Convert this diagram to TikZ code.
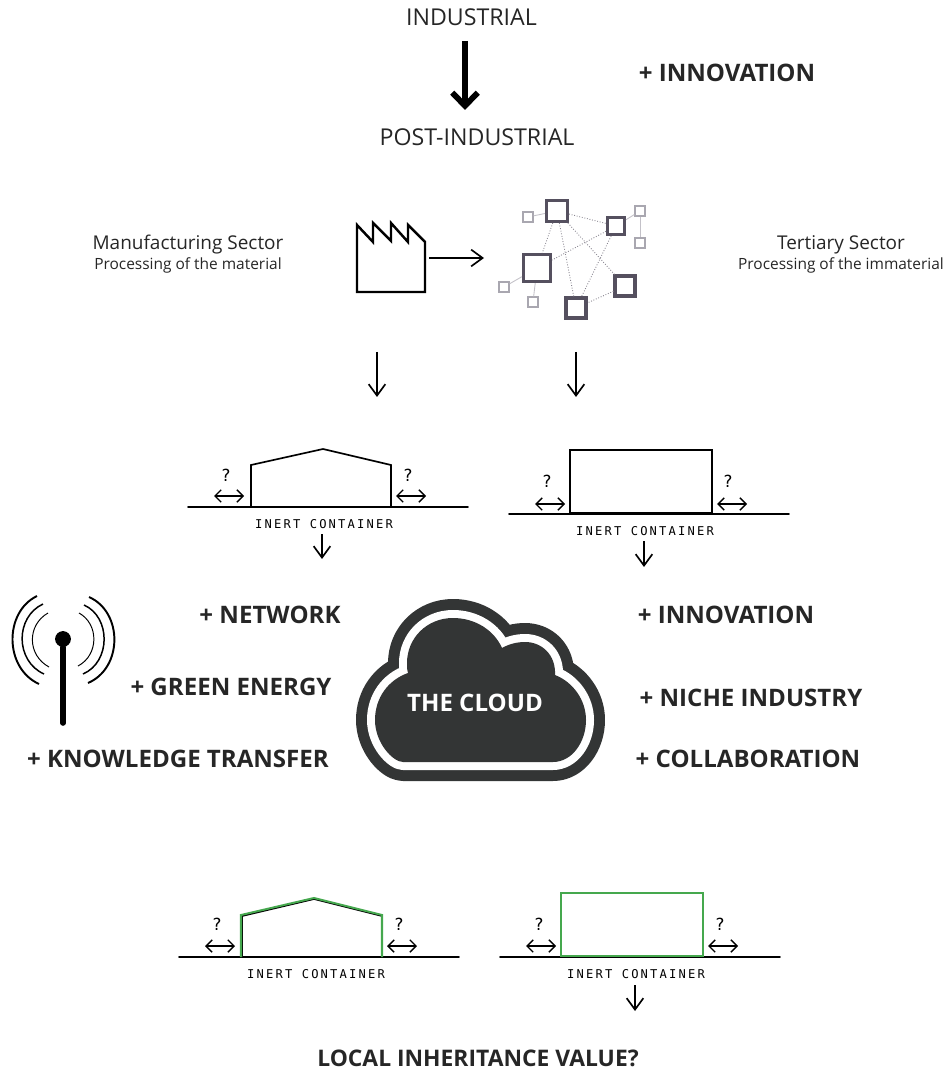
\documentclass[tikz,border=0pt]{standalone}
\usepackage{fontspec}
\setmainfont{Open Sans}
\setmonofont[LetterSpace=18]{DejaVu Sans Mono}
\usetikzlibrary{arrows.meta}
\definecolor{clouddark}{HTML}{333535}
\definecolor{netdark}{HTML}{55505F}
\definecolor{netlight}{HTML}{A9A7B0}
\definecolor{roofgreen}{HTML}{45A84E}
\newcommand{\cloudshape}{(403,762) -- (553,762) .. controls (572,762) and (586,742) .. (586,720) .. controls (586,700) and (573,682) .. (555,675) .. controls (556,655) and (542,642) .. (525,642) .. controls (517,642) and (509,644) .. (502,648) .. controls (494,630) and (475,618) .. (453,618) .. controls (427,618) and (407,638) .. (407,663) .. controls (407,668) and (407,670) .. (408,673) .. controls (388,680) and (375,698) .. (375,720) .. controls (375,743) and (393,762) .. (403,762) -- cycle}
\begin{document}
\begin{tikzpicture}[x=0.02cm, y=-0.02cm,
  big/.style = {font=\fontsize{13.2}{16}\selectfont, inner sep=0pt, text=black!85},
  side/.style = {font=\fontsize{10.8}{13}\selectfont, inner sep=0pt, text=black!85},
  sub/.style = {font=\fontsize{8.8}{11}\selectfont, inner sep=0pt, text=black!85},
  plus/.style = {font=\fontsize{13.7}{16}\selectfont\bfseries, inner sep=0pt, text=black!85},
  inert/.style = {font=\fontsize{6.9}{8}\ttfamily, inner sep=0pt},
  ask/.style = {font=\fontsize{9.5}{11}\ttfamily, inner sep=0pt},
  thin arrow/.style = {line width=0.95pt, -{Straight Barb[length=6.5pt,width=9.5pt,line width=0.95pt]}},
  both arrow/.style = {line width=0.8pt, {Straight Barb[length=3.5pt,width=7pt]}-{Straight Barb[length=3.5pt,width=7pt]}},
  ground/.style = {line width=0.95pt, line cap=round},
  hall/.style = {line width=0.95pt, line join=miter},
  hub/.style = {draw=netdark, line width=1.75pt, fill=white, minimum size=#1*0.569pt, inner sep=0pt},
  leaf/.style = {draw=netlight, line width=1pt, fill=white, minimum size=5.5pt, inner sep=0pt},
  link/.style = {draw=netdark!70, densely dotted, line width=0.5pt},
  twig/.style = {draw=netlight!70, line width=0.5pt}]
  \useasboundingbox (0,0) rectangle (946,1070);

  % top line
  \node[big] (ind) at (471.5,17) {INDUSTRIAL};
  \node[big] (post) at (477,137) {POST-INDUSTRIAL};
  \node[plus] (top) at (727,73) {+ INNOVATION};
  \coordinate (bigstart) at (465,41);
  \coordinate (bigend) at (465,110);
  \draw[line width=3.3pt, -{Straight Barb[length=7.5pt,width=14.5pt,line width=3.3pt]}] (bigstart) -- (bigend);

  % sectors
  \node[side] (man) at (188,245) {Manufacturing Sector};
  \node[sub] (mansub) at (188,265) {Processing of the material};
  \node[side] (ter) at (841,245) {Tertiary Sector};
  \node[sub] (tersub) at (841,265) {Processing of the immaterial};

  % factory
  \draw[line width=1.4pt, line join=miter] (357,292) -- (357,225) -- (373,242) -- (373,223) -- (391,241) -- (391,223) -- (408,242) -- (408,225) -- (425,242) -- (425,292) -- cycle;
  \coordinate (facout) at (429,258);
  \coordinate (netin) at (484,258);
  \draw[thin arrow] (facout) -- (netin);

  % network
  \node[hub=21] (n1) at (557,211) {};
  \node[hub=17] (n2) at (616,226) {};
  \node[hub=27] (n3) at (537,268) {};
  \node[hub=20] (n4) at (625,286) {};
  \node[hub=20] (n5) at (576,308) {};
  \node[leaf] (s1) at (528,217) {};
  \node[leaf] (s2) at (640,211) {};
  \node[leaf] (s3) at (640,243) {};
  \node[leaf] (s4) at (504,287) {};
  \node[leaf] (s5) at (533,302) {};
  \draw[link] (n1) to (n2);
  \draw[link] (n1) to (n3);
  \draw[link] (n1) to (n4);
  \draw[link] (n1) to (n5);
  \draw[link] (n2) to (n3);
  \draw[link] (n2) to (n5);
  \draw[link] (n4) to (n5);
  \draw[twig] (n1) to (s1);
  \draw[twig] (n2) to (s2);
  \draw[twig] (s2) to (s3);
  \draw[twig] (n3) to (s4);
  \draw[twig] (n3) to (s5);

  % arrows down
  \coordinate (d1) at (377,352);
  \coordinate (d2) at (377,397);
  \coordinate (d3) at (576,352);
  \coordinate (d4) at (576,397);
  \draw[thin arrow] (d1) -- (d2);
  \draw[thin arrow] (d3) -- (d4);

  % first pair of halls
  \coordinate (g1) at (188,507);
  \coordinate (g2) at (468,507);
  \draw[ground] (g1) -- (g2);
  \draw[hall] (251,507) -- (251,465) -- (323,449) -- (391,465) -- (391,507);
  \node[ask] (q1) at (226,475) {?};
  \node[ask] (q2) at (408,475) {?};
  \coordinate (a1) at (214,496);
  \coordinate (a2) at (244,496);
  \coordinate (a3) at (396,496);
  \coordinate (a4) at (426,496);
  \draw[both arrow] (a1) -- (a2);
  \draw[both arrow] (a3) -- (a4);
  \node[inert] (lab1) at (324,524) {INERT CONTAINER};
  \coordinate (d5) at (322,534);
  \coordinate (d6) at (322,559);
  \draw[thin arrow] (d5) -- (d6);

  \coordinate (g3) at (509,514);
  \coordinate (g4) at (789,514);
  \draw[ground] (g3) -- (g4);
  \draw[hall] (570,513) rectangle (712,450);
  \node[ask] (q3) at (547,481) {?};
  \node[ask] (q4) at (728,481) {?};
  \coordinate (a5) at (535,504);
  \coordinate (a6) at (565,504);
  \coordinate (a7) at (717,504);
  \coordinate (a8) at (747,504);
  \draw[both arrow] (a5) -- (a6);
  \draw[both arrow] (a7) -- (a8);
  \node[inert] (lab2) at (645,531) {INERT CONTAINER};
  \coordinate (d7) at (644,541);
  \coordinate (d8) at (644,567);
  \draw[thin arrow] (d7) -- (d8);

  % antenna
  \node[circle, fill=black, minimum size=9pt, inner sep=0pt] (dot) at (63,639) {};
  \coordinate (foot) at (63,723);
  \draw[line width=3.2pt, line cap=round] (dot) -- (foot);
  \draw[line width=1.1pt] (89,597) .. controls (123,612) and (123,668) .. (88,683);
  \draw[line width=0.85pt] (84,605) .. controls (111,617) and (111,662) .. (83,674);
  \draw[line width=0.55pt] (79,613) .. controls (99,624) and (99,655) .. (78,666);
  \draw[line width=1.1pt] (37,596) .. controls (4,612) and (4,668) .. (39,684);
  \draw[line width=0.85pt] (43,604) .. controls (15,617) and (15,661) .. (44,674);
  \draw[line width=0.55pt] (48,613) .. controls (27,625) and (27,655) .. (49,667);

  % cloud
  \draw[clouddark, line width=0.76cm, line join=round] \cloudshape;
  \draw[white, line width=0.32cm, line join=round] \cloudshape;
  \fill[clouddark] \cloudshape;
  \node[plus, text=white] (cloud) at (475,703) {THE CLOUD};

  % values
  \node[plus] (p1) at (270,615) {+ NETWORK};
  \node[plus] (p2) at (231,687) {+ GREEN ENERGY};
  \node[plus] (p3) at (178,759) {+ KNOWLEDGE TRANSFER};
  \node[plus] (p4) at (726,615) {+ INNOVATION};
  \node[plus] (p5) at (751,698) {+ NICHE INDUSTRY};
  \node[plus] (p6) at (748,759) {+ COLLABORATION};

  % second pair of halls
  \coordinate (g5) at (179,957);
  \coordinate (g6) at (459,957);
  \draw[ground] (g5) -- (g6);
  \draw[hall] (242,957) -- (242,916) -- (314,899) -- (382,916) -- (382,957);
  \draw[hall, roofgreen, line width=1.15pt] (241,957) -- (241,915) -- (314,898) -- (382,915) -- (382,957);
  \node[ask] (q5) at (217,924) {?};
  \node[ask] (q6) at (399,924) {?};
  \coordinate (a9) at (205,946);
  \coordinate (a10) at (235,946);
  \coordinate (a11) at (387,946);
  \coordinate (a12) at (417,946);
  \draw[both arrow] (a9) -- (a10);
  \draw[both arrow] (a11) -- (a12);
  \node[inert] (lab3) at (316,974) {INERT CONTAINER};

  \coordinate (g7) at (500,957);
  \coordinate (g8) at (780,957);
  \draw[ground] (g7) -- (g8);
  \draw[hall, roofgreen, line width=1.15pt] (561,956) rectangle (703,893);
  \node[ask] (q7) at (539,924) {?};
  \node[ask] (q8) at (720,924) {?};
  \coordinate (a13) at (526,946);
  \coordinate (a14) at (556,946);
  \coordinate (a15) at (708,946);
  \coordinate (a16) at (738,946);
  \draw[both arrow] (a13) -- (a14);
  \draw[both arrow] (a15) -- (a16);
  \node[inert] (lab4) at (636,974) {INERT CONTAINER};
  \coordinate (d9) at (635,985);
  \coordinate (d10) at (635,1011);
  \draw[thin arrow] (d9) -- (d10);

  \node[plus, font=\fontsize{13}{16}\selectfont\bfseries] (local) at (478,1058) {LOCAL INHERITANCE VALUE?};
\end{tikzpicture}
\end{document}
